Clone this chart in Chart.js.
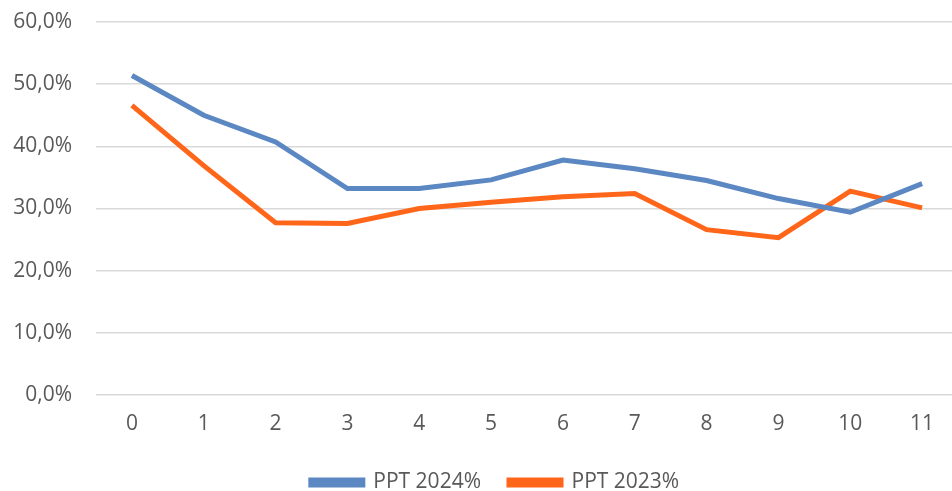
<!DOCTYPE html>
<html>
<head>
<meta charset="utf-8">
<script src="https://cdn.jsdelivr.net/npm/chart.js@4/dist/chart.umd.min.js"></script>
<style>
  body { margin: 0; background: #fff; }
  #kutija { width: 952px; height: 491px; overflow: hidden; }
</style>
</head>
<body>
<div id="kutija"><canvas id="grafik" width="958" height="491"></canvas></div>
<script>
// podaci
const kategorije = ["0","1","2","3","4","5","6","7","8","9","10","11"];
const ppt2024 = [51.4, 45.0, 40.7, 33.2, 33.2, 34.6, 37.8, 36.4, 34.5, 31.6, 29.4, 34.0];
const ppt2023 = [46.6, 36.9, 27.7, 27.6, 30.0, 31.0, 31.9, 32.4, 26.6, 25.3, 32.8, 30.1];
const nazivi = ["PPT 2024%", "PPT 2023%"];
const boje = ["#5b87c2", "#ff661a"];

const font = { family: "'Open Sans', 'Noto Sans', sans-serif", size: 21 };
const siva = "#595959";

// legenda: fiksna visina i malo pomerena udesno
const legendaPodesavanje = {
    id: "legendaPodesavanje",
    beforeInit(chart) {
        const staraFit = chart.legend.fit;
        chart.legend.fit = function () {
            staraFit.bind(chart.legend)();
            this.height = 47;
        };
    },
    afterLayout(chart) {
        chart.legend.left += 16;
        chart.legend.right += 16;
    }
};

let myChart = new Chart(document.getElementById("grafik"), {
    type: "line",
    data: {
        labels: kategorije,
        datasets: [
            { label: nazivi[0], data: ppt2024, borderColor: boje[0], backgroundColor: boje[0], borderWidth: 5, pointRadius: 0, tension: 0 },
            { label: nazivi[1], data: ppt2023, borderColor: boje[1], backgroundColor: boje[1], borderWidth: 5, pointRadius: 0, tension: 0 }
        ]
    },
    options: {
        responsive: false,
        animation: false,
        layout: { padding: { top: 22, right: 0, left: 0, bottom: 0 } },
        scales: {
            x: {
                offset: true,
                grid: { display: false, drawTicks: false },
                border: { display: false },
                ticks: { color: siva, font: font, padding: 16 },
                afterFit: (s) => { s.height = 49; }
            },
            y: {
                min: 0,
                max: 60,
                ticks: {
                    stepSize: 10,
                    color: siva,
                    font: font,
                    padding: 24,
                    callback: (v) => v.toFixed(1).replace(".", ",") + "%"
                },
                grid: { color: "#d9d9d9", lineWidth: 1.5, drawTicks: false },
                border: { display: false },
                afterFit: (s) => {
                    s.width = 96;
                    s.paddingTop = 0;
                    s.paddingBottom = 0;
                }
            }
        },
        plugins: {
            legend: {
                position: "bottom",
                labels: { color: siva, font: font, boxWidth: 52, boxHeight: 5, padding: 28 }
            },
            tooltip: { enabled: false }
        }
    },
    plugins: [legendaPodesavanje]
});
</script>
</body>
</html>
